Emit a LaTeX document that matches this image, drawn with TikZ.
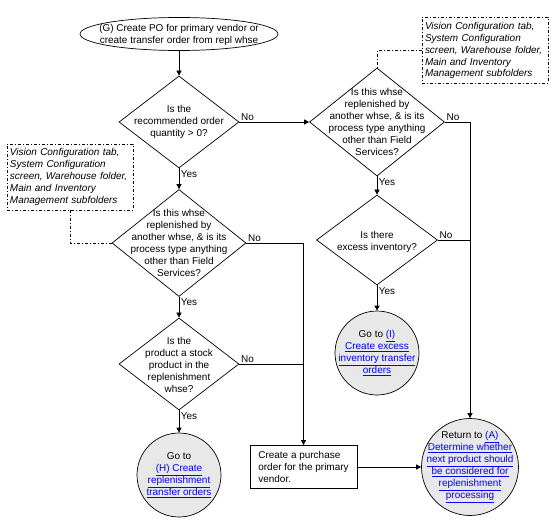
\documentclass[tikz,border=0pt]{standalone}
\usepackage{fontspec}
\setmainfont{Liberation Sans}
\usetikzlibrary{shapes.geometric,arrows.meta}
\newcommand{\lnk}[1]{\textcolor{blue}{\underline{#1}}}
\begin{document}
\begin{tikzpicture}[x=1bp,y=-1bp,line width=0.7bp,>={Triangle[length=5bp,width=5bp]}]
    \tikzstyle{txt}=[align=center,inner sep=0pt,font=\fontsize{10}{12}\selectfont]
    \tikzstyle{terminal}=[ellipse,draw,inner sep=0pt,minimum width=198bp,minimum height=33bp]
    \tikzstyle{decision}=[diamond,draw,inner sep=0pt]
    \tikzstyle{goto}=[circle,draw,fill=black!9,inner sep=0pt]
    \tikzstyle{process}=[rectangle,draw,minimum width=107bp,minimum height=43bp,align=left,inner sep=5bp,font=\fontsize{10}{12}\selectfont]
    \tikzstyle{note}=[rectangle,draw,dash pattern=on 3bp off 2bp on 1bp off 2bp,minimum width=126bp,minimum height=66bp,align=left,inner sep=3bp,font=\fontsize{10}{12}\selectfont\itshape]
    \tikzstyle{annot}=[dash pattern=on 3bp off 2bp on 1bp off 2bp]
    \tikzstyle{yes}=[anchor=north west,inner sep=1.5bp,font=\fontsize{10}{12}\selectfont]
    \tikzstyle{no}=[anchor=south west,inner sep=1.5bp,font=\fontsize{10}{12}\selectfont]
    \useasboundingbox (0,0) rectangle (556,521);

    \node[terminal,label={[txt,yshift=-1bp]center:{(G) Create PO for primary vendor or\\create transfer order from repl whse}}] (start) at (179,34) {};
    \node[decision,minimum width=120bp,minimum height=92bp,label={[txt]center:{Is the\\recommended order\\quantity > 0?}}] (q1) at (179,122) {};
    \node[decision,minimum width=134bp,minimum height=107bp,label={[txt]center:{Is this whse\\replenished by\\another whse, \& is its\\process type anything\\other than Field\\Services?}}] (q2) at (179,243) {};
    \node[decision,minimum width=120bp,minimum height=92bp,label={[txt,yshift=-1bp]center:{Is the\\product a stock\\product in the\\replenishment\\whse?}}] (q3) at (179,364) {};
    \node[goto,minimum size=84bp,label={[txt]center:{Go to\\\lnk{(H) Create}\\\lnk{replenishment}\\\lnk{transfer orders}}}] (goH) at (179,475) {};
    \node[process] (po) at (303.5,467) {Create a purchase\\order for the primary\\vendor.};
    \node[decision,minimum width=135bp,minimum height=108bp,label={[txt]center:{Is this whse\\replenished by\\another whse, \& is its\\process type anything\\other than Field\\Services?}}] (q4) at (377,122) {};
    \node[decision,minimum width=121bp,minimum height=90bp,label={[txt,yshift=-2bp]center:{Is there\\excess inventory?}}] (q5) at (377,240) {};
    \node[goto,minimum size=84bp,label={[txt]center:{Go to \lnk{(I)}\\\lnk{Create excess}\\\lnk{inventory transfer}\\\lnk{orders}}}] (goI) at (377,353) {};
    \node[goto,minimum size=97bp,label={[txt]center:{Return to \lnk{(A)}\\\lnk{Determine whether}\\\lnk{next product should}\\\lnk{be considered for}\\\lnk{replenishment}\\\lnk{processing}}}] (retA) at (470,467) {};
    \node[note,text width=120bp] (noteL) at (70,177) {Vision Configuration tab,\\System Configuration\\screen, Warehouse folder,\\Main and Inventory\\Management subfolders};
    \node[note,text width=120bp] (noteR) at (485,50.5) {Vision Configuration tab,\\System Configuration\\screen, Warehouse folder,\\Main and Inventory\\Management subfolders};

    \draw[->] (start) -- (q1);
    \draw[->] (q1) -- node[yes,at start]{Yes} (q2);
    \draw[->] (q2) -- node[yes,at start]{Yes} (q3);
    \draw[->] (q3) -- node[yes,at start]{Yes} (goH);
    \draw[->] (q1.east) node[no]{No} -- (q4.west);
    \draw[->] (q4) -- node[yes,at start]{Yes} (q5);
    \draw[->] (q5) -- node[yes,at start]{Yes} (goI);
    \draw[->] (q2.east) node[no]{No} -| (po.north);
    \draw (q3.east) node[no]{No} -- (q3.east -| po.north);
    \draw[->] (q4.east) node[no]{No} -| (retA.north);
    \draw (q5.east) node[no]{No} -- (q5.east -| retA.north);
    \draw[->] (po) -- (retA);
    \draw[annot] (noteL.south) |- (q2.west);
    \draw[annot] (noteR.west) -| (q4.north);

\end{tikzpicture}
\end{document}
